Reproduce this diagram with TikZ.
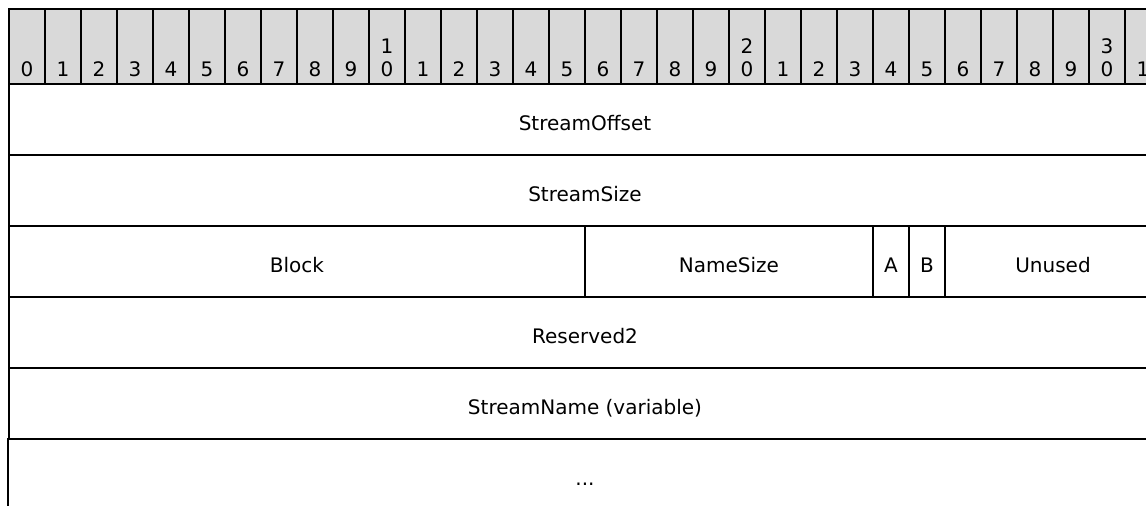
\documentclass[tikz,border=0pt]{standalone}
\usepackage{fontspec}
\setmainfont{DejaVu Sans}
\usepackage{xcolor}
\definecolor{header}{RGB}{217,217,217}
\tikzstyle{bitcell}=[draw, fill=header, line width=2pt, minimum width=36pt, minimum height=75pt, inner sep=0pt]
\tikzstyle{bitnum}=[anchor=base, inner sep=0pt, font=\fontsize{20}{24}\selectfont]
\tikzstyle{field}=[draw, line width=2pt, minimum height=71pt, inner sep=0pt, text height=22pt, text depth=0pt, font=\fontsize{20}{24}\selectfont]
\tikzset{wholerow/.style={field, minimum width=1152pt}}

\begin{document}
\begin{tikzpicture}[x=1pt,y=-1pt]
  \useasboundingbox (0,0) rectangle (1146,506);
  %% Bit ruler
  \foreach \i in {0,...,31}{
    \pgfmathtruncatemacro\lo{mod(\i,10)}
    \pgfmathtruncatemacro\hi{\i/10}
    \draw (27+36*\i,46.5) node[bitcell] (bit\i) {};
    \draw (27+36*\i,76) node[bitnum] (lo\i) {\lo};
    \ifnum\lo=0 \ifnum\i>0
      \draw (27+36*\i,53) node[bitnum] (hi\i) {\hi};
    \fi\fi
  }

  %% Fields
  \draw (585,119.5) node[wholerow] (StreamOffset) {StreamOffset};
  \draw (585,190.5) node[wholerow] (StreamSize) {StreamSize};

  \draw (297,261.5) node[field, minimum width=576pt] (Block) {Block};
  \draw (729,261.5) node[field, minimum width=288pt] (NameSize) {NameSize};
  \draw (891,261.5) node[field, minimum width=36pt] (A) {A};
  \draw (927,261.5) node[field, minimum width=36pt] (B) {B};
  \draw (1053,261.5) node[field, minimum width=216pt] (Unused) {Unused};

  \draw (585,332.5) node[wholerow] (Reserved2) {Reserved2};
  \draw (585,403.5) node[wholerow] (StreamName) {StreamName (variable)};

  %% Open end
  \draw (585,474.5) node[wholerow, draw=none] (More) {...};
  \draw[line width=2pt] (More.north west) -- (More.south west);
\end{tikzpicture}
\end{document}
